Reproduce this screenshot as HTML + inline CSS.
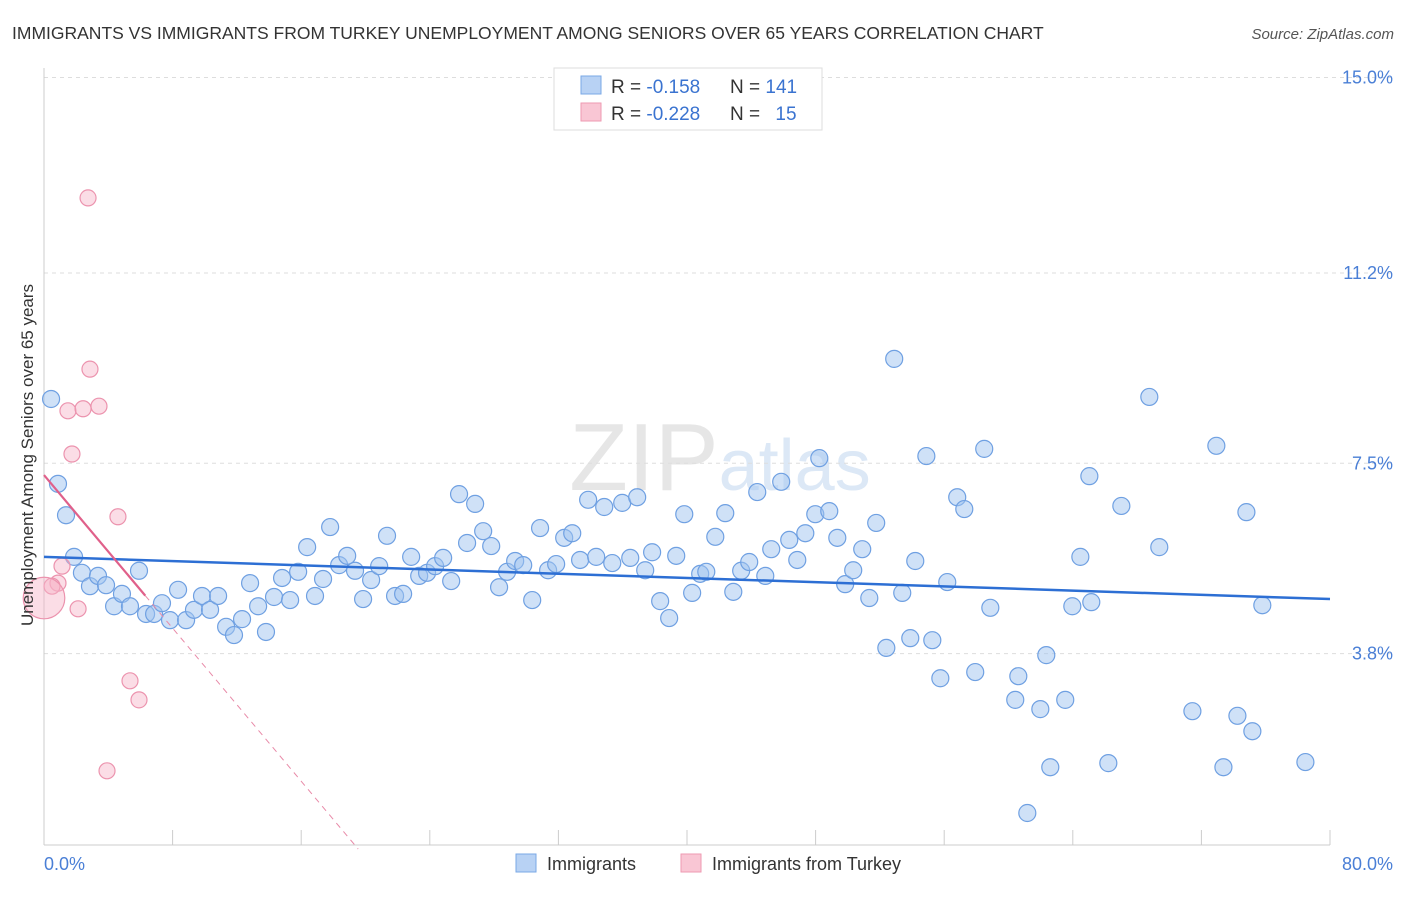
<!DOCTYPE html>
<html><head><meta charset="utf-8"><style>
body{margin:0;background:#fff;font-family:"Liberation Sans",sans-serif}
svg text{font-family:"Liberation Sans",sans-serif}
</style></head><body>
<svg id="chart" width="1406" height="892" xmlns="http://www.w3.org/2000/svg">
<text x="12" y="39" font-size="17.5" fill="#333">IMMIGRANTS VS IMMIGRANTS FROM TURKEY UNEMPLOYMENT AMONG SENIORS OVER 65 YEARS CORRELATION CHART</text>
<text x="1394" y="39" font-size="15" fill="#555" text-anchor="end" font-style="italic">Source: ZipAtlas.com</text>
<text x="720" y="490" font-size="96" fill="#e6e6e6" text-anchor="middle" font-family="Liberation Serif"><tspan>ZIP</tspan><tspan fill="#dce8f6" font-family="Liberation Sans" font-size="72">atlas</tspan></text>
<g id="grid"></g>
<g id="axes"></g>
<g id="marks"></g>
<g id="trends"></g>
<text transform="translate(33,455) rotate(-90)" font-size="17" fill="#333" text-anchor="middle">Unemployment Among Seniors over 65 years</text>
<text x="44" y="870" font-size="18" fill="#4a7fd6">0.0%</text>
<text x="1393" y="870" font-size="18" fill="#4a7fd6" text-anchor="end">80.0%</text>
<g>
<rect x="554" y="68" width="268" height="62" fill="#fff" stroke="#ddd"/>
<rect x="581" y="76" width="20" height="18" fill="#b8d2f4" stroke="#7aa8e6"/>
<rect x="581" y="103" width="20" height="18" fill="#f9c6d4" stroke="#ee9ab2"/>
<text x="611" y="93" font-size="19" fill="#333">R = <tspan fill="#3a73d0">-0.158</tspan></text>
<text x="730" y="93" font-size="19" fill="#333">N = <tspan fill="#3a73d0">141</tspan></text>
<text x="611" y="120" font-size="19" fill="#333">R = <tspan fill="#3a73d0">-0.228</tspan></text>
<text x="730" y="120" font-size="19" fill="#333">N = <tspan fill="#3a73d0" dx="10">15</tspan></text>
</g>
<g>
<rect x="516" y="854" width="20" height="18" fill="#b8d2f4" stroke="#7aa8e6"/>
<text x="547" y="870" font-size="18" fill="#333">Immigrants</text>
<rect x="681" y="854" width="20" height="18" fill="#f9c6d4" stroke="#ee9ab2"/>
<text x="712" y="870" font-size="18" fill="#333">Immigrants from Turkey</text>
</g>
</svg>
<script>
const blueX=[0.44,0.87,1.37,1.87,2.36,2.86,3.36,3.86,4.36,4.85,5.35,5.91,6.35,6.85,7.34,7.84,8.34,8.84,9.33,9.83,10.33,10.83,11.33,11.82,12.32,12.82,13.32,13.81,14.31,14.81,15.31,15.81,16.37,16.86,17.36,17.80,18.36,18.86,19.35,19.85,20.35,20.85,21.34,21.84,22.34,22.84,23.34,23.83,24.33,24.83,25.33,25.82,26.32,26.82,27.32,27.82,28.31,28.81,29.31,29.81,30.37,30.86,31.36,31.86,32.36,32.86,33.35,33.85,34.35,34.85,35.35,35.97,36.47,36.90,37.40,37.83,38.33,38.89,39.33,39.83,40.32,40.82,41.20,41.76,42.38,42.88,43.37,43.87,44.37,44.87,45.24,45.86,46.36,46.86,47.36,47.98,48.23,48.85,49.35,49.84,50.34,50.90,51.34,51.77,52.40,52.89,53.39,53.89,54.20,54.89,55.26,55.76,56.19,56.81,57.25,57.93,58.49,58.87,60.42,60.61,61.17,61.98,62.35,62.60,63.53,63.97,64.47,65.03,65.15,66.21,67.02,68.76,69.38,71.44,72.93,73.37,74.24,74.80,75.17,75.79,78.47];
const blueY=[8.75,7.10,6.49,5.68,5.37,5.11,5.31,5.13,4.72,4.96,4.72,5.41,4.57,4.57,4.78,4.45,5.04,4.45,4.65,4.92,4.65,4.92,4.32,4.16,4.47,5.17,4.72,4.22,4.90,5.27,4.84,5.39,5.87,4.92,5.25,6.26,5.52,5.70,5.41,4.86,5.23,5.50,6.09,4.92,4.96,5.68,5.31,5.37,5.50,5.66,5.21,6.90,5.95,6.71,6.18,5.89,5.09,5.39,5.60,5.52,4.84,6.24,5.42,5.54,6.05,6.14,5.62,6.79,5.68,6.65,5.56,6.73,5.66,6.84,5.42,5.77,4.82,4.49,5.70,6.51,4.98,5.35,5.39,6.07,6.53,5.00,5.41,5.58,6.94,5.31,5.83,7.14,6.01,5.62,6.14,6.51,7.60,6.57,6.05,5.15,5.42,5.83,4.88,6.34,3.91,9.53,4.98,4.10,5.60,7.64,4.06,3.32,5.19,6.84,6.61,3.44,7.78,4.69,2.90,3.36,0.70,2.72,3.77,1.59,2.90,4.72,5.68,7.25,4.80,1.67,6.67,8.79,5.87,2.68,7.84,1.59,2.59,6.55,2.29,4.74,1.69];
const pinkX=[2.74,2.86,1.49,2.43,3.42,1.74,4.60,1.12,0.87,0.50,2.12,5.35,5.91,3.92,0.0];
const pinkY=[12.66,9.33,8.52,8.56,8.61,7.68,6.46,5.50,5.17,5.11,4.67,3.27,2.90,1.52,4.88];
const pinkSize=[1,1,1,1,1,1,1,1,1,1,1,1,1,1,2.6];
const yTicks=[15.0,11.2,7.5,3.8];
const yTickLabels=["15.0%","11.2%","7.5%","3.8%"];
const xTicks=[0,8,16,24,32,40,48,56,64,72,80];
const blueTrend=[5.68,4.86];
const pinkTrend=[7.27,-0.372];

const NS="http://www.w3.org/2000/svg";
const X0=44,X1=1330,Y0=849,PPY=51.43;
const sx=v=>X0+(X1-X0)*v/80;
const sy=v=>Y0-PPY*v;
function mk(tag,attrs,parent){const e=document.createElementNS(NS,tag);for(const k in attrs)e.setAttribute(k,attrs[k]);document.getElementById(parent).appendChild(e);return e;}
yTicks.forEach((t,i)=>{
 const l=mk('line',{x1:X0,x2:1394,y1:sy(t),y2:sy(t),stroke:'#ddd','stroke-dasharray':'4,4'},'grid');
 
 
 const tx=mk('text',{x:1393,y:sy(t)+6,'font-size':18,fill:'#4a7fd6','text-anchor':'end'},'grid');
 tx.textContent=yTickLabels[i];
 
 
});
const ax=mk('line',{x1:X0,x2:X0,y1:68,y2:845,stroke:'#ccc'},'axes');


const bx=mk('line',{x1:X0,x2:X1,y1:845,y2:845,stroke:'#ccc'},'axes');


xTicks.forEach(t=>{
 const l=mk('line',{x1:sx(t),x2:sx(t),y1:830,y2:845,stroke:'#ccc'},'axes');
 
 
});
blueX.forEach((v,i)=>{
 const c=mk('circle',{cx:sx(v),cy:sy(blueY[i]),r:8.5,fill:'rgba(160,196,240,0.5)',stroke:'#6fa0e2','stroke-width':1.2},'marks');
 
 
});
pinkX.forEach((v,i)=>{
 const c=mk('circle',{cx:sx(v),cy:sy(pinkY[i]),r:8*pinkSize[i],fill:'rgba(246,180,200,0.45)',stroke:'#ec93ae','stroke-width':1.2},'marks');
 
 
});
const bt=mk('line',{x1:sx(0),y1:sy(blueTrend[0]),x2:sx(80),y2:sy(blueTrend[1]),stroke:'#2d6fd4','stroke-width':2.5},'trends');


const pEnd=6.3, pZero=-pinkTrend[0]/pinkTrend[1];
const pt=mk('line',{x1:sx(0),y1:sy(pinkTrend[0]),x2:sx(pEnd),y2:sy(pinkTrend[0]+pinkTrend[1]*pEnd),stroke:'#e0608a','stroke-width':2.2},'trends');


const pd=mk('line',{x1:sx(pEnd),y1:sy(pinkTrend[0]+pinkTrend[1]*pEnd),x2:sx(pZero),y2:sy(0),stroke:'#e88aa8','stroke-width':1,'stroke-dasharray':'6,5'},'trends');


</script>
</body></html>
